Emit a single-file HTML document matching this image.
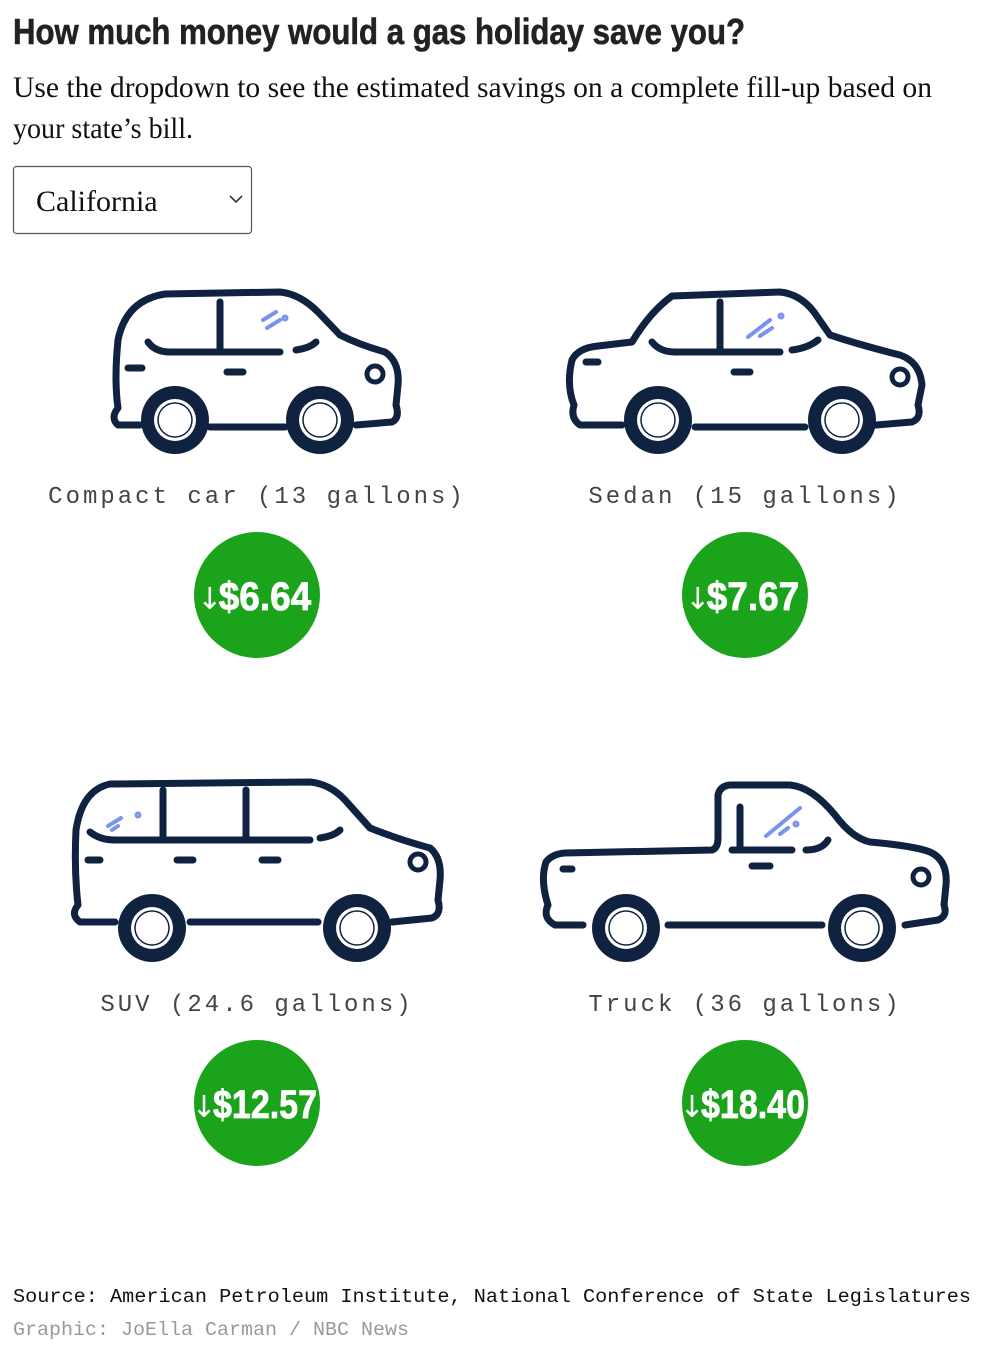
<!DOCTYPE html>
<html><head><meta charset="utf-8">
<style>
html,body{margin:0;padding:0;background:#fff;width:1000px;height:1359px;overflow:hidden}
svg{display:block}
</style></head>
<body>
<svg id="chart" width="1000" height="1359" viewBox="0 0 1000 1359" xmlns="http://www.w3.org/2000/svg">
  <text x="13" y="44" font-family="Liberation Sans, sans-serif" font-weight="bold" font-size="36" fill="#222" stroke="#222" stroke-width="0.6" textLength="732" lengthAdjust="spacingAndGlyphs">How much money would a gas holiday save you?</text>
  <text x="13" y="97" font-family="Liberation Serif, serif" font-size="30" fill="#111" textLength="919" lengthAdjust="spacingAndGlyphs">Use the dropdown to see the estimated savings on a complete fill-up based on</text>
  <text x="13" y="138" font-family="Liberation Serif, serif" font-size="30" fill="#111" textLength="180" lengthAdjust="spacingAndGlyphs">your state’s bill.</text>
  <g>
    <rect x="13.5" y="166.5" width="238" height="67" rx="3" fill="#fff" stroke="#555" stroke-width="1.2"/>
    <text x="36" y="211" font-family="Liberation Serif, serif" font-size="30" fill="#111">California</text>
    <path d="M230 196 l6 6 l6 -6" fill="none" stroke="#222" stroke-width="1.5"/>
  </g>
  <g id="glints" fill="none" stroke="#7b93f0" stroke-width="4" stroke-linecap="round">
    <path d="M263 320 L276 312"/><path d="M267 328 L280 320"/><circle cx="285" cy="318" r="1.5"/>
    <path d="M748 337 L770 320"/><path d="M760 336 L772 328"/><circle cx="781" cy="316" r="1.5"/>
    <path d="M108 826 L121 818"/><path d="M112 830 L118 826"/><circle cx="138" cy="815" r="1.5"/>
    <path d="M766 836 L800 808"/><path d="M780 834 L788 828"/><circle cx="796" cy="824" r="1.5"/>
  </g>
  <g id="cars" fill="none" stroke="#0f2240" stroke-width="7" stroke-linecap="round" stroke-linejoin="round">
    <g>
      <path d="M140 425 L118 425 Q110 418 118 408 Q114 380 118 340 Q126 300 165 294 L280 292 Q300 294 318 312 L340 335 Q360 345 385 352 Q400 362 398 385 L396 405 Q400 418 392 422 L356 425"/>
      <path d="M210 427 L285 427"/>
      <path d="M148 342 Q155 352 170 352 L280 352"/><path d="M220 302 L220 350"/><path d="M296 350 Q310 348 316 342"/>
      <path d="M128 368 L142 368"/><path d="M227 372 L243 372"/>
      <circle cx="375" cy="374" r="8" stroke-width="5"/>
    </g>
    <g>
      <path d="M622 425 L580 425 Q570 418 574 405 Q566 385 572 360 Q578 348 598 346 L632 342 Q650 312 672 296 L780 292 Q800 294 814 312 L830 335 Q860 345 900 355 Q920 362 922 385 L918 405 Q922 418 912 422 L876 425"/>
      <path d="M695 427 L805 427"/>
      <path d="M652 342 Q660 352 675 352 L780 352"/><path d="M720 302 L720 350"/><path d="M792 350 Q808 348 818 340"/>
      <path d="M586 362 L598 362"/><path d="M734 372 L750 372"/>
      <circle cx="900" cy="377" r="8" stroke-width="5"/>
    </g>
    <g>
      <path d="M115 922 L80 922 Q70 915 78 905 Q74 870 76 830 Q82 790 110 784 L310 782 Q330 784 345 800 L370 828 Q400 840 430 848 Q442 858 440 880 L438 900 Q442 914 432 918 L392 922"/>
      <path d="M190 922 L318 922"/>
      <path d="M90 832 Q100 840 115 840 L310 840"/><path d="M163 790 L163 838"/><path d="M246 790 L246 838"/><path d="M320 838 Q334 836 340 830"/>
      <path d="M88 860 L100 860"/><path d="M177 860 L193 860"/><path d="M262 860 L278 860"/>
      <circle cx="418" cy="862" r="8" stroke-width="5"/>
    </g>
    <g>
      <path d="M583 925 L555 925 Q542 918 548 905 Q540 880 546 862 Q552 854 565 853 L712 850 Q718 848 718 838 L718 795 Q720 786 730 785 L790 785 Q812 787 835 815 Q852 838 870 842 Q915 846 930 852 Q948 860 946 885 L944 905 Q948 916 938 920 L905 925"/>
      <path d="M668 925 L822 925"/>
      <path d="M732 850 L792 850"/><path d="M740 807 L740 848"/><path d="M806 850 Q822 850 828 840"/>
      <path d="M563 869 L572 869"/><path d="M752 866 L770 866"/>
      <circle cx="921" cy="877" r="8" stroke-width="5"/>
    </g>
  </g>
  <g id="wheels"></g>
  <g id="labels"></g>
  <g id="badges"></g>
  <text x="13" y="1302" font-family="Liberation Mono, monospace" font-size="19" fill="#111" textLength="958" lengthAdjust="spacingAndGlyphs">Source: American Petroleum Institute, National Conference of State Legislatures</text>
  <text x="13" y="1335" font-family="Liberation Mono, monospace" font-size="19" fill="#999" textLength="396" lengthAdjust="spacingAndGlyphs">Graphic: JoElla Carman / NBC News</text>
</svg>
<script>
const vehicles = ["Compact car", "Sedan", "SUV", "Truck"];
const gallons = [13, 15, 24.6, 36];
const savings = [6.64, 7.67, 12.57, 18.40];

const NS = "http://www.w3.org/2000/svg";
const colX = [257, 745];
const rowLabelY = [503, 1011];
const rowBadgeY = [595, 1103];
const wheelPos = [[[175,420],[320,420]],[[658,420],[842,420]],[[152,928],[357,928]],[[626,928],[862,928]]];

function mk(tag, attrs, parent) {
  const e = document.createElementNS(NS, tag);
  for (const k in attrs) e.setAttribute(k, attrs[k]);
  parent.appendChild(e);
  return e;
}
const wg = document.getElementById('wheels');
const lg = document.getElementById('labels');
const bg = document.getElementById('badges');

vehicles.forEach((v, i) => {
  const cx = colX[i % 2], row = Math.floor(i / 2);
  wheelPos[i].forEach(([x, y]) => {
    const w = mk('g', {}, wg);
    
    
    mk('circle', {cx: x, cy: y, r: 34, fill: '#0f2240'}, w);
    mk('circle', {cx: x, cy: y, r: 21, fill: '#fff'}, w);
    mk('circle', {cx: x, cy: y, r: 17, fill: 'none', stroke: '#0f2240', 'stroke-width': 1.5}, w);
  });
  const label = v + " (" + gallons[i] + " gallons)";
  const t = mk('text', {x: cx, y: rowLabelY[row], 'text-anchor': 'middle', 'font-family': 'Liberation Mono, monospace', 'font-size': 24, fill: '#444', 'letter-spacing': 3}, lg);
  t.textContent = label;
  
  
  const b = mk('g', {}, bg);
  
  
  mk('circle', {cx: cx, cy: rowBadgeY[row], r: 63, fill: '#1ba31b'}, b);
  const txt = "$" + savings[i].toFixed(2);
  const tw = Math.min(txt.length * 18.5, 104);
  const bt = mk('text', {x: cx + 8, y: rowBadgeY[row] + 15, 'text-anchor': 'middle', 'font-family': 'Liberation Sans, sans-serif', 'font-weight': 'bold', 'font-size': 40, fill: '#fff', stroke: '#fff', 'stroke-width': 0.8, textLength: tw, lengthAdjust: 'spacingAndGlyphs'}, b);
  bt.textContent = txt;
  const ar = mk('text', {x: cx + 8 - tw / 2 - 9, y: rowBadgeY[row] + 14, 'text-anchor': 'middle', 'font-family': 'DejaVu Sans, sans-serif', 'font-size': 30, fill: '#fff'}, b);
  ar.textContent = "↓";
});
</script>
</body></html>
